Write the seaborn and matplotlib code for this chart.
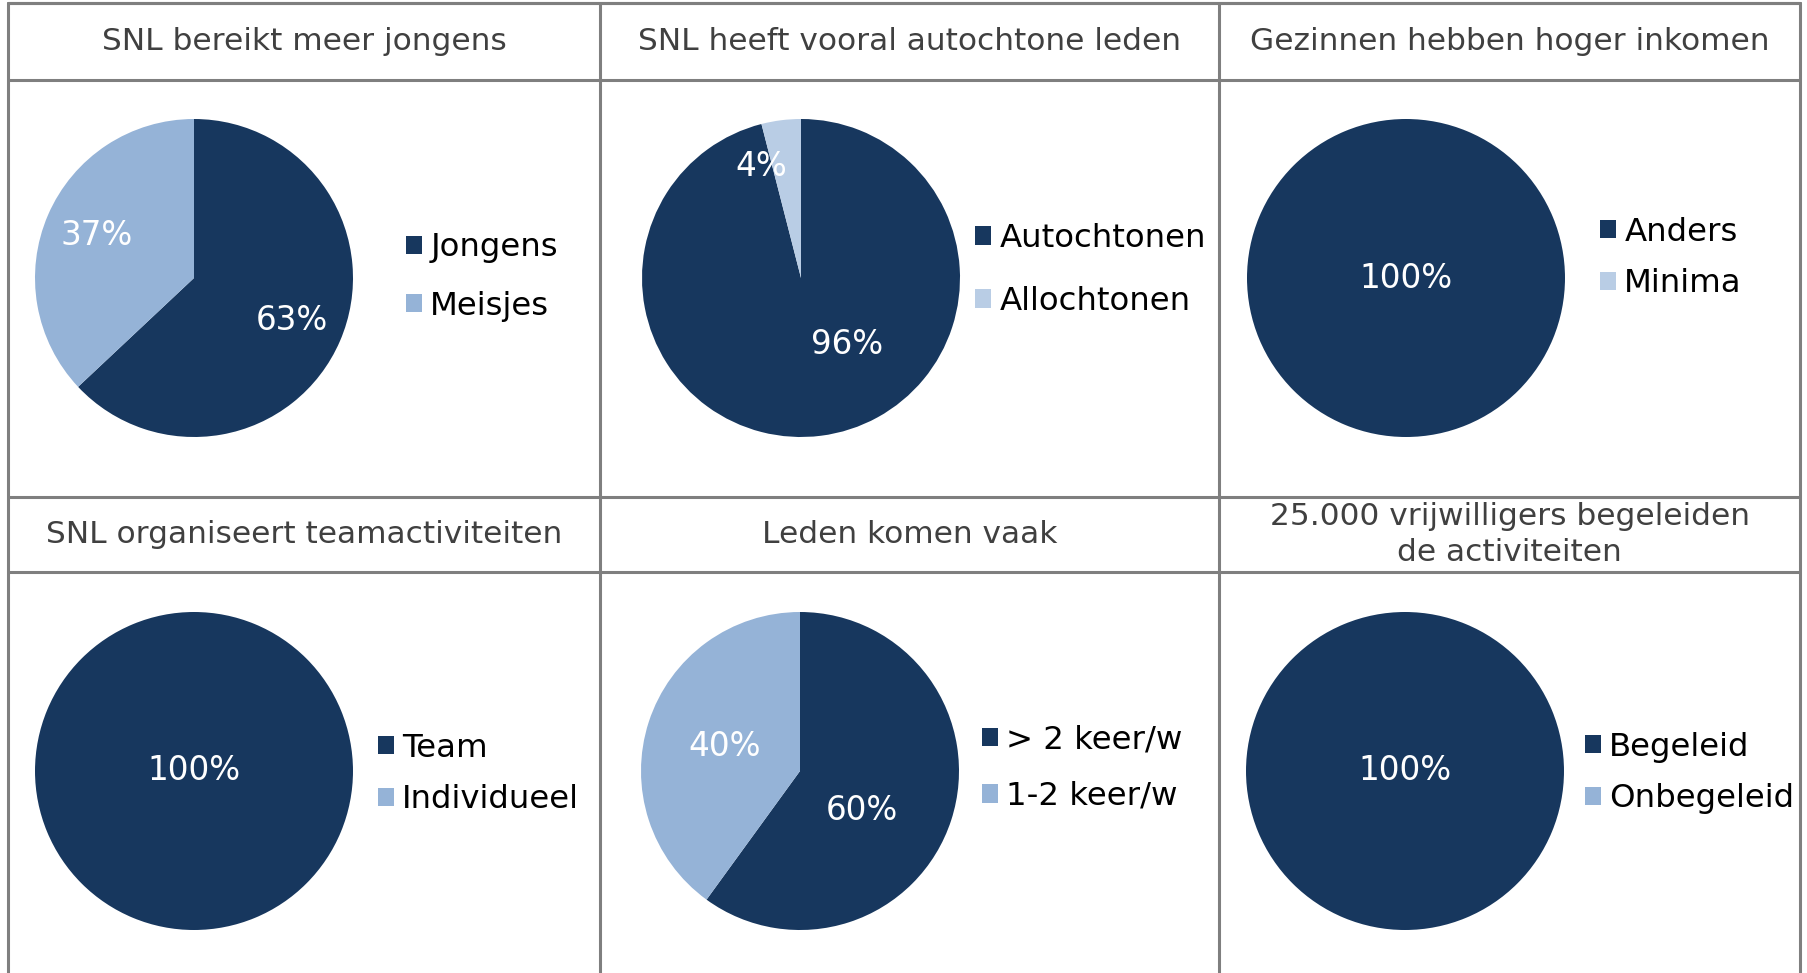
import matplotlib
matplotlib.use("Agg")
import matplotlib.pyplot as plt
from matplotlib.lines import Line2D
import seaborn as sns

# panel titles, labels and shares (percent)
titles = [
    "SNL bereikt meer jongens",
    "SNL heeft vooral autochtone leden",
    "Gezinnen hebben hoger inkomen",
    "SNL organiseert teamactiviteiten",
    "Leden komen vaak",
    "25.000 vrijwilligers begeleiden\nde activiteiten",
]
labels = [
    ["Jongens", "Meisjes"],
    ["Autochtonen", "Allochtonen"],
    ["Anders", "Minima"],
    ["Team", "Individueel"],
    ["> 2 keer/w", "1-2 keer/w"],
    ["Begeleid", "Onbegeleid"],
]
shares = [
    [63, 37],
    [96, 4],
    [100, 0],
    [100, 0],
    [60, 40],
    [100, 0],
]

dark = "#17375E"
mid = "#95B3D7"
light = "#B9CDE5"
second_colors = [mid, light, light, mid, mid, mid]

sns.set_theme(style="white")
plt.rcParams["font.family"] = ["DejaVu Sans"]

W, H = 1807, 973
fig = plt.figure(figsize=(W / 100, H / 100), dpi=100)
fig.patch.set_facecolor("white")

# grid layout in pixels (from top-left)
col_x = [8, 600, 1219, 1800]
row_top = [3, 497]
head_h = [77, 75]
pie_centers = [(194, 278), (801, 278), (1406, 278),
               (194, 771), (800, 771), (1405, 771)]
radius = 159
legend_pos = [(406, 277), (975, 270), (1600, 258),
              (378, 774), (982, 768), (1585, 773)]
legend_spacing = [0.85, 1.0, 0.64, 0.64, 0.79, 0.64]
pct_dist = [0.67, 0.5, 0.68, 0.68, 0.5, 0.68]


def fx(px):
    return px / W


def fy(py):
    return 1 - py / H


# border lines
line_kw = dict(color="#7f7f7f", lw=2.2, transform=fig.transFigure)
for x in col_x:
    fig.add_artist(Line2D([fx(x), fx(x)], [fy(row_top[0]), 0], **line_kw))
fig.add_artist(Line2D([fx(col_x[0]), fx(col_x[-1])], [fy(row_top[0])] * 2, **line_kw))
for r, top in enumerate(row_top):
    fig.add_artist(Line2D([fx(col_x[0]), fx(col_x[-1])], [fy(top)] * 2, **line_kw))
    fig.add_artist(Line2D([fx(col_x[0]), fx(col_x[-1])], [fy(top + head_h[r])] * 2, **line_kw))

for i, (title, labs, vals) in enumerate(zip(titles, labels, shares)):
    r, c = divmod(i, 3)
    # header text
    xc = (col_x[c] + col_x[c + 1]) / 2
    yc = row_top[r] + head_h[r] / 2
    fig.text(fx(xc), fy(yc), title, ha="center", va="center", fontsize=22.5,
             color="#404040", linespacing=1.3)

    # pie
    cx, cy = pie_centers[i]
    half = radius * 1.25
    ax = fig.add_axes([fx(cx - half), fy(cy + half), 2 * half / W, 2 * half / H])
    wedges, _, autotexts = ax.pie(
        vals, colors=[dark, second_colors[i]], startangle=90, counterclock=False,
        autopct=lambda p: f"{p:.0f}%" if p > 0.5 else "", pctdistance=pct_dist[i],
        textprops=dict(color="white", fontsize=23.5), wedgeprops=dict(linewidth=0),
    )
    for v, t in zip(vals, autotexts):
        if v == 100:
            t.set_position((0, 0))
    # Excel-style label placement
    if i == 1:
        autotexts[1].set_position((-0.25, 0.7))
        autotexts[0].set_position((0.29, -0.42))
    if i == 4:
        autotexts[0].set_position((0.39, -0.25))
    ax.set_xlim(-1.25, 1.25)
    ax.set_ylim(-1.25, 1.25)
    ax.set_aspect("equal")

    lx, ly = legend_pos[i]
    ax.legend(wedges, labs, loc="center left", bbox_to_anchor=(fx(lx), fy(ly)),
              bbox_transform=fig.transFigure, frameon=False, fontsize=23.3,
              handlelength=0.5, handleheight=0.5, handletextpad=0.25,
              borderpad=0, borderaxespad=0, labelspacing=legend_spacing[i],
              labelcolor="black")

fig.savefig("out.png", dpi=100, facecolor="white")
